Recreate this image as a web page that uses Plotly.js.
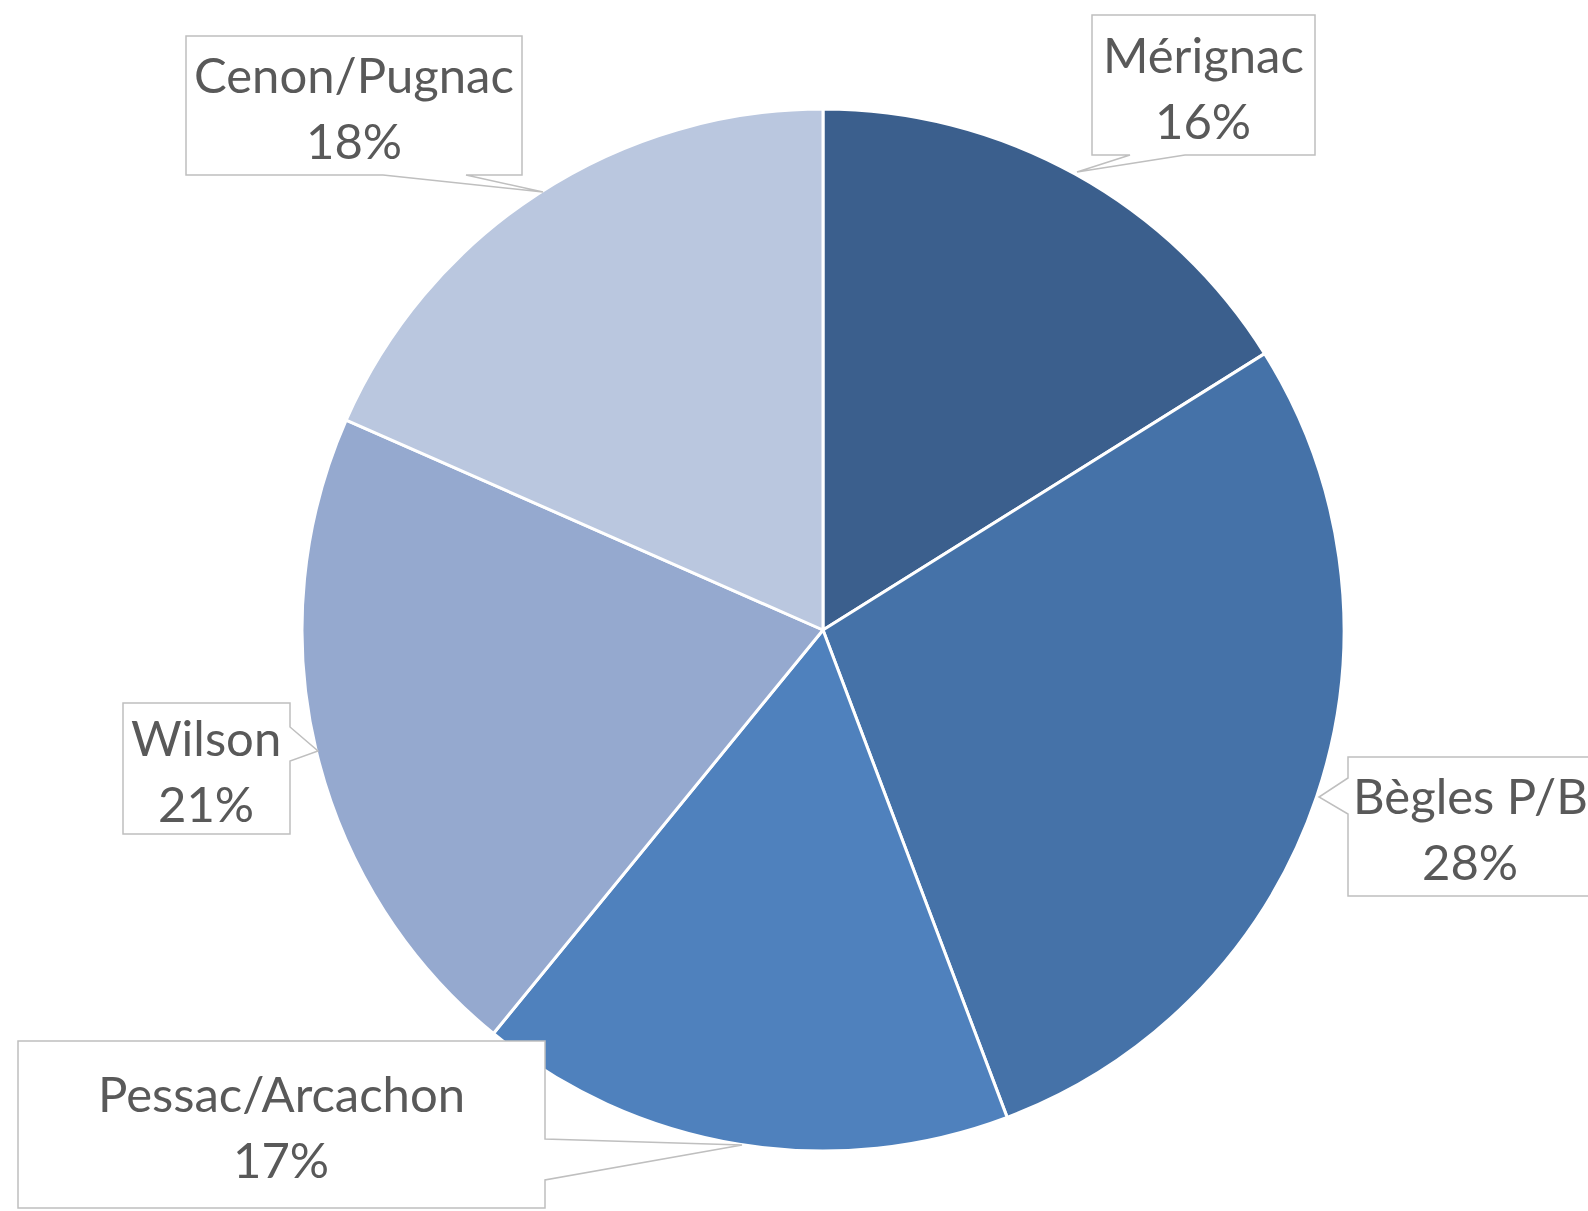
<!DOCTYPE html>
<html>
<head>
<meta charset="utf-8">
<script src="https://cdn.plot.ly/plotly-3.0.1.min.js"></script>
<style>html,body{margin:0;padding:0;background:#fff;}#chart{width:1588px;height:1211px;}</style>
</head>
<body>
<div id="chart"></div>
<script>
// Data
const labels = ["Mérignac", "Bègles P/B", "Pessac/Arcachon", "Wilson", "Cenon/Pugnac"];
const values = [16.1, 28.15, 16.65, 20.7, 18.4];
const colors = ["#3B5F8D", "#4572A8", "#4F81BD", "#95A9CF", "#BAC7DF"];

const W = 1588, H = 1211;
const px = x => x / W;
const py = y => 1 - y / H;

// Callout geometry (pixels): box and pointer outline, text center
const callouts = [
  {pts: [[1092,15],[1315,15],[1315,155],[1185,155],[1077,172],[1130,155],[1092,155]], cx: 1203, cy: 85},
  {pts: [[1348,757],[1592,757],[1592,896],[1348,896],[1348,814],[1319,797],[1348,778]], cx: 1470, cy: 826},
  {pts: [[18,1041],[545,1041],[545,1139],[742,1145],[545,1180],[545,1208],[18,1208]], cx: 281, cy: 1124},
  {pts: [[123,703],[290,703],[290,727],[318,751],[290,761],[290,834],[123,834]], cx: 206, cy: 768},
  {pts: [[186,36],[522,36],[522,175],[466,175],[543,192],[383,175],[186,175]], cx: 354, cy: 105}
];

const total = values.reduce((a, b) => a + b, 0);

const shapes = callouts.map(c => ({
  type: 'path', xref: 'paper', yref: 'paper', layer: 'above',
  path: 'M ' + c.pts.map(p => px(p[0]) + ',' + py(p[1])).join(' L ') + ' Z',
  fillcolor: '#FFFFFF', line: {color: '#BFBFBF', width: 1.5}
}));

const font = {family: 'Lato, "Open Sans", sans-serif', size: 49, color: '#595959'};
const annotations = [];
callouts.forEach((c, i) => {
  const lines = [labels[i], Math.round(values[i] / total * 100) + '%'];
  const offs = [-31, 35];
  lines.forEach((t, k) => annotations.push({
    xref: 'paper', yref: 'paper', x: px(c.cx), y: py(c.cy + offs[k]),
    xanchor: 'center', yanchor: 'middle', showarrow: false,
    text: t, font: font, align: 'center'
  }));
});

const cxp = 823, cyp = 630, r = 521;
const trace = {
  type: 'pie', labels: labels, values: values, sort: false, direction: 'clockwise', rotation: 0,
  marker: {colors: colors, line: {color: '#FFFFFF', width: 3}},
  textinfo: 'none', hoverinfo: 'label+percent',
  domain: {x: [px(cxp - r), px(cxp + r)], y: [py(cyp + r), py(cyp - r)]}
};

Plotly.newPlot('chart', [trace], {
  width: W, height: H, margin: {l: 0, r: 0, t: 0, b: 0},
  paper_bgcolor: '#FFFFFF', showlegend: false,
  shapes: shapes, annotations: annotations
}, {displayModeBar: false, staticPlot: true});
</script>
</body>
</html>
